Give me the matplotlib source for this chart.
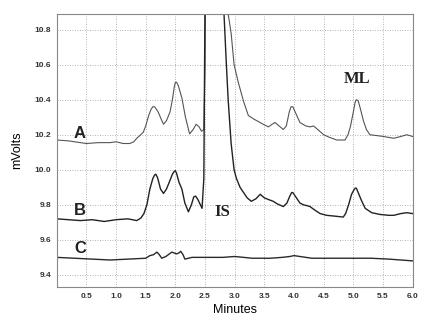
import matplotlib
matplotlib.use('Agg')
import matplotlib.pyplot as plt

# 色谱图：三条迹线 A、B、C（保留时间 / 信号 mV）
tA = [0.0, 0.2, 0.4, 0.5, 0.7, 0.9, 1.0, 1.12, 1.23, 1.30,
      1.35, 1.40, 1.46, 1.50, 1.55, 1.59, 1.62, 1.65, 1.68, 1.71,
      1.76, 1.80, 1.85, 1.91, 1.95, 1.98, 2.00, 2.02, 2.05, 2.11,
      2.17, 2.24, 2.30, 2.35, 2.40, 2.44, 2.48, 2.50, 2.52, 2.60,
      2.70, 2.80, 2.86, 2.89, 2.94, 2.99, 3.06, 3.15, 3.23, 3.32,
      3.40, 3.48, 3.57, 3.63, 3.68, 3.75, 3.82, 3.87, 3.92, 3.95,
      3.98, 4.02, 4.10, 4.20, 4.27, 4.33, 4.40, 4.50, 4.60, 4.72,
      4.86, 4.91, 4.95, 5.00, 5.03, 5.05, 5.08, 5.11, 5.17, 5.22,
      5.28, 5.40, 5.51, 5.68, 5.80, 5.90, 6.00]
vA = [10.17, 10.165, 10.155, 10.15, 10.155, 10.155, 10.16, 10.15, 10.15, 10.16,
      10.18, 10.195, 10.215, 10.25, 10.31, 10.345, 10.36, 10.36, 10.345, 10.33,
      10.29, 10.26, 10.28, 10.33, 10.40, 10.47, 10.50, 10.50, 10.48, 10.41,
      10.30, 10.205, 10.23, 10.26, 10.245, 10.22, 10.23, 10.60, 11.80, 13.00,
      12.80, 11.60, 11.10, 10.89, 10.78, 10.60, 10.50, 10.39, 10.31, 10.29,
      10.275, 10.26, 10.245, 10.26, 10.27, 10.25, 10.23, 10.25, 10.33, 10.36,
      10.36, 10.33, 10.27, 10.25, 10.245, 10.25, 10.23, 10.20, 10.185, 10.17,
      10.17, 10.20, 10.245, 10.33, 10.385, 10.40, 10.395, 10.36, 10.28, 10.23,
      10.20, 10.195, 10.19, 10.18, 10.19, 10.20, 10.19]

tB = [0.0, 0.2, 0.4, 0.6, 0.8, 1.0, 1.2, 1.35, 1.42, 1.47,
      1.52, 1.57, 1.62, 1.65, 1.67, 1.70, 1.75, 1.80, 1.85, 1.91,
      1.95, 1.98, 2.00, 2.02, 2.06, 2.11, 2.16, 2.22, 2.27, 2.31,
      2.34, 2.38, 2.45, 2.48, 2.51, 2.60, 2.70, 2.78, 2.82, 2.86,
      2.89, 2.94, 2.99, 3.03, 3.09, 3.15, 3.21, 3.28, 3.36, 3.43,
      3.50, 3.57, 3.65, 3.72, 3.82, 3.88, 3.93, 3.96, 3.98, 4.02,
      4.10, 4.16, 4.22, 4.27, 4.35, 4.44, 4.55, 4.70, 4.83, 4.87,
      4.92, 4.97, 5.01, 5.03, 5.05, 5.07, 5.13, 5.20, 5.31, 5.45,
      5.60, 5.68, 5.80, 5.90, 6.00]
vB = [9.72, 9.715, 9.71, 9.715, 9.705, 9.715, 9.72, 9.71, 9.725, 9.75,
      9.80, 9.89, 9.95, 9.97, 9.975, 9.955, 9.89, 9.865, 9.89, 9.94,
      9.975, 9.99, 9.995, 9.98, 9.93, 9.89, 9.81, 9.76, 9.80, 9.845,
      9.85, 9.83, 9.78, 9.95, 11.50, 13.00, 12.50, 11.40, 10.89, 10.60,
      10.40, 10.15, 10.00, 9.95, 9.90, 9.87, 9.84, 9.82, 9.835, 9.86,
      9.84, 9.83, 9.82, 9.805, 9.79, 9.81, 9.85, 9.87, 9.87, 9.85,
      9.81, 9.80, 9.795, 9.79, 9.77, 9.75, 9.74, 9.735, 9.73, 9.75,
      9.80, 9.86, 9.885, 9.895, 9.895, 9.88, 9.83, 9.78, 9.755, 9.745,
      9.74, 9.74, 9.75, 9.755, 9.75]

tC = [0.0, 0.3, 0.6, 0.9, 1.2, 1.5, 1.57, 1.63, 1.69, 1.73,
      1.77, 1.84, 1.90, 1.94, 2.02, 2.06, 2.09, 2.13, 2.16, 2.22,
      2.28, 2.5, 2.8, 3.0, 3.3, 3.6, 3.8, 3.93, 4.0, 4.1,
      4.3, 4.6, 5.0, 5.3, 5.6, 5.8, 6.0]
vC = [9.50, 9.495, 9.49, 9.485, 9.49, 9.495, 9.51, 9.515, 9.53, 9.515,
      9.495, 9.505, 9.52, 9.53, 9.52, 9.525, 9.535, 9.515, 9.49, 9.495,
      9.50, 9.50, 9.50, 9.505, 9.495, 9.495, 9.50, 9.505, 9.51, 9.505,
      9.495, 9.495, 9.495, 9.495, 9.49, 9.485, 9.48]

xticks = [0.5, 1.0, 1.5, 2.0, 2.5, 3.0, 3.5, 4.0, 4.5, 5.0, 5.5, 6.0]
yticks = [9.4, 9.6, 9.8, 10.0, 10.2, 10.4, 10.6, 10.8]

fig = plt.figure(figsize=(4.33, 3.23), dpi=100)
ax = fig.add_axes([0.131, 0.111, 0.822, 0.846])

ax.plot(tA, vA, color='#555555', lw=0.8)
ax.plot(tB, vB, color='#222222', lw=1.0)
ax.plot(tC, vC, color='#2a2a2a', lw=1.0)

ax.set_xlim(0, 6.0)
ax.set_ylim(9.33, 10.89)
ax.set_xticks(xticks)
ax.set_yticks(yticks)
ax.set_xticklabels(['%.1f' % x for x in xticks])
ax.set_yticklabels(['%.1f' % y for y in yticks])
ax.tick_params(length=0, pad=4, labelsize=6, labelcolor='#333333')
for lab in ax.get_xticklabels() + ax.get_yticklabels():
    lab.set_fontweight('bold')
    lab.set_family('Liberation Sans')
ax.grid(True, linestyle=(0, (1, 2)), color='#999999', lw=0.6)
for sp in ax.spines.values():
    sp.set_color('#888888')
    sp.set_linewidth(0.8)

ax.set_xlabel('Minutes', family='Liberation Sans', fontsize=9, labelpad=3)
ax.set_ylabel('mVolts', family='Liberation Sans', fontsize=9, labelpad=8)

# 迹线标签和峰名
for name, y in [('A', 10.21), ('B', 9.77), ('C', 9.55)]:
    ax.text(0.39, y, name, family='Liberation Sans', fontweight='bold',
            fontsize=12, ha='center', va='center', color='#222222')
ax.text(5.06, 10.52, 'ML', family='Liberation Serif', fontweight='bold',
        fontsize=12, ha='center', va='center', color='#222222')
ax.text(2.80, 9.76, 'IS', family='Liberation Serif', fontweight='bold',
        fontsize=12, ha='center', va='center', color='#222222')

fig.savefig('out.png', dpi=100, facecolor='white')
